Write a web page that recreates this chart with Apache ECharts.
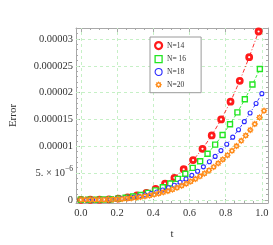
<!DOCTYPE html>
<html><head><meta charset="utf-8">
<script src="https://cdn.jsdelivr.net/npm/echarts@6/dist/echarts.min.js"></script>
<style>html,body{margin:0;padding:0;background:#fff}#c{width:273px;height:245px}</style>
</head><body><div id="c"></div>
<script>
// ---- data (errors in units of 1e-6) ----
const tN14 = [0, 0.052, 0.103, 0.155, 0.207, 0.258, 0.31, 0.362, 0.413, 0.465, 0.517, 0.568, 0.62, 0.672, 0.723, 0.775, 0.827, 0.878, 0.93, 0.982];
const eN14 = [0, 0.003, 0.02, 0.08, 0.22, 0.45, 0.8, 1.3, 2.05, 3.0, 4.1, 5.7, 7.4, 9.5, 12.0, 15.0, 18.3, 22.2, 26.6, 31.4];
const tN16 = [0, 0.041, 0.082, 0.124, 0.165, 0.206, 0.247, 0.288, 0.33, 0.371, 0.412, 0.453, 0.494, 0.536, 0.577, 0.618, 0.659, 0.7, 0.742, 0.783, 0.824, 0.865, 0.906, 0.948, 0.989];
const eN16 = [0, 0.002, 0.014, 0.048, 0.11, 0.22, 0.38, 0.6, 0.9, 1.29, 1.76, 2.35, 3.05, 3.9, 4.85, 5.95, 7.2, 8.6, 10.3, 12.1, 14.1, 16.3, 18.75, 21.5, 24.4];
const tN18 = [0, 0.032, 0.065, 0.097, 0.129, 0.161, 0.194, 0.226, 0.258, 0.29, 0.323, 0.355, 0.387, 0.419, 0.452, 0.484, 0.516, 0.548, 0.581, 0.613, 0.645, 0.677, 0.71, 0.742, 0.774, 0.806, 0.839, 0.871, 0.903, 0.935, 0.968, 1.0];
const eN18 = [0, 0.001, 0.005, 0.018, 0.043, 0.083, 0.145, 0.228, 0.34, 0.483, 0.667, 0.886, 1.15, 1.46, 1.83, 2.25, 2.72, 3.26, 3.88, 4.56, 5.31, 6.14, 7.09, 8.09, 9.18, 10.37, 11.69, 13.08, 14.58, 16.18, 17.96, 19.8];
const tN20 = [0, 0.025, 0.051, 0.076, 0.101, 0.127, 0.152, 0.177, 0.202, 0.228, 0.253, 0.278, 0.304, 0.329, 0.354, 0.38, 0.405, 0.43, 0.455, 0.481, 0.506, 0.531, 0.557, 0.582, 0.607, 0.633, 0.658, 0.683, 0.708, 0.734, 0.759, 0.784, 0.81, 0.835, 0.86, 0.886, 0.911, 0.936, 0.961, 0.987, 1.012];
const eN20 = [0, 0.0002, 0.0016, 0.005, 0.013, 0.027, 0.047, 0.075, 0.112, 0.164, 0.226, 0.302, 0.399, 0.51, 0.64, 0.797, 0.972, 1.169, 1.393, 1.654, 1.936, 2.25, 2.608, 2.987, 3.403, 3.875, 4.371, 4.909, 5.485, 6.136, 6.806, 7.525, 8.325, 9.147, 10.02, 10.995, 11.99, 13.03, 14.14, 15.36, 16.6];
const seriesNames = ['N=14', 'N= 16', 'N=18', 'N=20'];
const xTicks = [0, 0.2, 0.4, 0.6, 0.8, 1.0];
const xTickLabels = ['0.0', '0.2', '0.4', '0.6', '0.8', '1.0'];
const xMinor = [0.05, 0.1, 0.15, 0.25, 0.3, 0.35, 0.45, 0.5, 0.55, 0.65, 0.7, 0.75, 0.85, 0.9, 0.95];
// y ticks in units of 1e-6
const yTicks = [0, 5, 10, 15, 20, 25, 30];
const yTickLabels = ['0', '5. \u00d7 10{s|\u22126}', '0.00001', '0.000015', '0.00002', '0.000025', '0.00003'];
const yMinor = [1, 2, 3, 4, 6, 7, 8, 9, 11, 12, 13, 14, 16, 17, 18, 19, 21, 22, 23, 24, 26, 27, 28, 29, 31, 32];

// ---- style ----
const colors = ['#ff1a1a', '#22e622', '#2a2aff', '#ff8c1a'];
const FONT = '"Liberation Serif", "DejaVu Serif", serif';
const frameColor = '#a8a8a8';
const gridColor = '#c6f0c6';
const X0 = -0.027, X1 = 1.034, Y0 = -0.6, Y1 = 32.05;

function starPath(n, rOut, rIn, rHole) {
  let d = '';
  for (let i = 0; i < 2 * n; i++) {
    const r = i % 2 === 0 ? rOut : rIn;
    const a = Math.PI * i / n - Math.PI / 2;
    d += (i === 0 ? 'M' : 'L') + (r * Math.cos(a)).toFixed(3) + ' ' + (r * Math.sin(a)).toFixed(3) + ' ';
  }
  d += 'Z ';
  const m = 16;
  for (let i = 0; i <= m; i++) {
    const a = -2 * Math.PI * i / m;
    d += (i === 0 ? 'M' : 'L') + (rHole * Math.cos(a)).toFixed(3) + ' ' + (rHole * Math.sin(a)).toFixed(3) + ' ';
  }
  return 'path://' + d + 'Z';
}
const starSym = starPath(8, 10, 7, 3.2);

function pairs(t, e) { return t.map((v, i) => [v, e[i]]); }

function labelFor(v) {
  for (let i = 0; i < yTicks.length; i++) if (Math.abs(v - yTicks[i]) < 1e-6) return yTickLabels[i];
  return '';
}
function xLabelFor(v) {
  for (let i = 0; i < xTicks.length; i++) if (Math.abs(v - xTicks[i]) < 1e-6) return xTickLabels[i];
  return '';
}

const labelStyle = { fontFamily: FONT, fontSize: 10.5, color: '#333' };

function xAx(pos, vals, len, main) {
  return {
    type: 'value', position: pos, min: X0, max: X1,
    axisLine: { show: main, onZero: false, lineStyle: { color: frameColor, width: 1 } },
    axisTick: { show: true, inside: true, length: len, customValues: vals, lineStyle: { color: frameColor } },
    axisLabel: pos === 'bottom' && main ? Object.assign({ show: true, customValues: xTicks, margin: 5, formatter: v => xLabelFor(v) }, labelStyle) : { show: false },
    splitLine: { show: false },
    name: pos === 'bottom' && main ? 't' : '',
    nameLocation: 'middle', nameGap: 26,
    nameTextStyle: { fontFamily: FONT, fontSize: 11, color: '#333' }
  };
}
function yAx(pos, vals, len, main) {
  return {
    type: 'value', position: pos, min: Y0, max: Y1,
    axisLine: { show: main, onZero: false, lineStyle: { color: frameColor, width: 1 } },
    axisTick: { show: true, inside: true, length: len, customValues: vals, lineStyle: { color: frameColor } },
    axisLabel: pos === 'left' && main ? Object.assign({ show: true, customValues: yTicks, margin: 3, formatter: v => labelFor(v),
      rich: { s: { fontFamily: FONT, fontSize: 7.5, color: '#333', padding: [0, 0, 7, 0] } } }, labelStyle) : { show: false },
    splitLine: { show: false },
    name: pos === 'left' && main ? 'Error' : '',
    nameLocation: 'middle', nameGap: 57, nameRotate: 90,
    nameTextStyle: { fontFamily: FONT, fontSize: 11, color: '#333' }
  };
}

const tArr = [tN14, tN16, tN18, tN20];
const eArr = [eN14, eN16, eN18, eN20];
const symbols = ['circle', 'rect', 'circle', starSym];
const symSizes = [5, 5, 4, 7];
const itemStyles = [
  { color: '#fff', borderColor: colors[0], borderWidth: 2.8 },
  { color: '#fff', borderColor: colors[1], borderWidth: 1.4 },
  { color: '#fff', borderColor: colors[2], borderWidth: 1.1 },
  { color: colors[3], borderWidth: 0 }
];
const legendItemStyles = [
  { color: '#fff', borderColor: colors[0], borderWidth: 2.2 },
  { color: '#fff', borderColor: colors[1], borderWidth: 1.3 },
  { color: '#fff', borderColor: colors[2], borderWidth: 1.1 },
  { color: colors[3], borderWidth: 0 }
];
const dashes = [[4, 2, 1, 2], [3, 2], [3, 2, 1, 2], [3, 2]];

const series = seriesNames.map((name, i) => ({
  name, type: 'line', xAxisIndex: 0, yAxisIndex: 0,
  data: pairs(tArr[i], eArr[i]),
  symbol: symbols[i], symbolSize: symSizes[i], showSymbol: true,
  itemStyle: itemStyles[i],
  lineStyle: { color: colors[i], width: 0.9, type: dashes[i] },
  emphasis: { disabled: true }, animation: false, z: 2 + i
}));

// grid lines at the major tick values, placed through the axes
series.unshift({
  name: '_grid', type: 'line', data: [], z: 1, silent: true,
  markLine: {
    silent: true, symbol: ['none', 'none'], z: 1, animation: false, precision: 6,
    label: { show: false },
    lineStyle: { color: gridColor, type: [3, 3], width: 1 },
    emphasis: { disabled: true },
    data: xTicks.map(v => ({ xAxis: v })).concat(yTicks.map(v => ({ yAxis: v })))
  }
});

const chart = echarts.init(document.getElementById('c'), null, { renderer: 'canvas' });
chart.setOption({
  backgroundColor: '#fff',
  animation: false,
  grid: { left: 70, right: 5, top: 28, bottom: 40, containLabel: false },
  xAxis: [xAx('bottom', xTicks, 4, true), xAx('bottom', xMinor, 2, false), xAx('top', xTicks, 4, true), xAx('top', xMinor, 2, false)],
  yAxis: [yAx('left', yTicks, 4, true), yAx('left', yMinor, 2, false), yAx('right', yTicks, 4, true), yAx('right', yMinor, 2, false)],
  legend: {
    orient: 'vertical', left: 150, top: 37,
    padding: [4, 15, 4, 4],
    itemWidth: 7, itemHeight: 7, itemGap: 4.7,
    backgroundColor: '#fff', borderColor: '#9a9a9a', borderWidth: 1,
    textStyle: { fontFamily: FONT, fontSize: 7.5, color: '#333' },
    data: seriesNames.map((n, i) => ({ name: n, icon: symbols[i], itemStyle: legendItemStyles[i] })),
    selectedMode: false
  },
  series
});
</script></body></html>
